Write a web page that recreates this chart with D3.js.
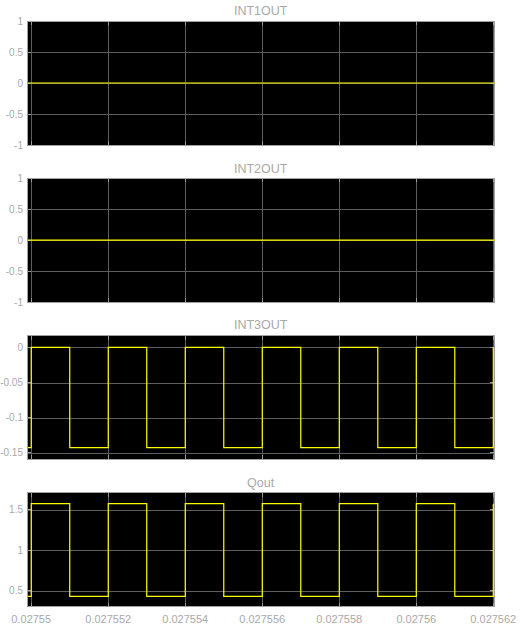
<!DOCTYPE html>
<html>
<head>
<meta charset="utf-8">
<script src="https://cdn.jsdelivr.net/npm/d3@7"></script>
<style>
  html, body { margin: 0; padding: 0; background: #ffffff; }
  svg { display: block; }
  text { font-family: "Liberation Sans", Arial, sans-serif; }
</style>
</head>
<body>
<script>
// ---------- data ----------
const panelTitles = ["INT1OUT", "INT2OUT", "INT3OUT", "Qout"];
const xTicks = [0.02755, 0.027552, 0.027554, 0.027556, 0.027558, 0.02756, 0.027562];
const xTickLabels = ["0.02755", "0.027552", "0.027554", "0.027556", "0.027558", "0.02756", "0.027562"];
const xDomain = [0.02754989, 0.027562026];
const stepTimes = [0.02754989, 0.02755, 0.027551, 0.027552, 0.027553, 0.027554, 0.027555,
                   0.027556, 0.027557, 0.027558, 0.027559, 0.02756, 0.027561, 0.027562];
const flatTimes = [0.02754989, 0.027562026];
const int1Values = [0, 0];
const int2Values = [0, 0];
const int3Values = [-0.1425, 0, -0.1425, 0, -0.1425, 0, -0.1425, 0, -0.1425, 0, -0.1425, 0, -0.1425, 0];
const qoutValues = [0.43, 1.577, 0.43, 1.577, 0.43, 1.577, 0.43, 1.577, 0.43, 1.577, 0.43, 1.577, 0.43, 1.577];
const yDomains = [[-1, 1], [-1, 1], [-0.1587, 0.0165], [0.302, 1.713]];
const yTicks = [[-1, -0.5, 0, 0.5, 1], [-1, -0.5, 0, 0.5, 1], [-0.15, -0.1, -0.05, 0], [0.5, 1, 1.5]];
const yTickLabels = [["-1", "-0.5", "0", "0.5", "1"], ["-1", "-0.5", "0", "0.5", "1"],
                     ["-0.15", "-0.1", "-0.05", "0"], ["0.5", "1", "1.5"]];
const seriesTimes = [flatTimes, flatTimes, stepTimes, stepTimes];
const seriesValues = [int1Values, int2Values, int3Values, qoutValues];

// ---------- layout ----------
const W = 522, H = 628;
const left = 27, right = 494.3;
const panelBoxes = [[21, 145], [178.3, 302], [335.7, 459], [492.7, 606.7]];
const titleY = [15, 173, 329, 487];

const textColor = "#a9a9a9";
const gridColor = "#5e5e5e";
const borderColor = "#a0a0a0";
const lineColor = "#ffff00";

const svg = d3.select("body").append("svg").attr("width", W).attr("height", H);

const x = d3.scaleLinear().domain(xDomain).range([left, right]);

panelBoxes.forEach((box, i) => {
  const [top, bottom] = box;
  const y = d3.scaleLinear().domain(yDomains[i]).range([bottom, top]);
  const g = svg.append("g");

  // background
  g.append("rect").attr("x", left).attr("y", top)
    .attr("width", right - left).attr("height", bottom - top).attr("fill", "#000");

  // grid (via axes)
  const gx = g.append("g").attr("transform", `translate(0,${bottom})`)
    .call(d3.axisBottom(x).tickValues(xTicks).tickSize(-(bottom - top)).tickFormat(""));
  const gy = g.append("g").attr("transform", `translate(${left},0)`)
    .call(d3.axisLeft(y).tickValues(yTicks[i]).tickSize(-(right - left)).tickFormat(""));
  [gx, gy].forEach(a => {
    a.select(".domain").remove();
    a.selectAll("line").attr("stroke", gridColor).attr("stroke-width", 1).attr("shape-rendering", "crispEdges");
  });

  // small inner tick marks at edges
  const tl = 4;
  const tg = g.append("g").attr("stroke", "#9a9a9a").attr("shape-rendering", "crispEdges");
  xTicks.forEach(t => {
    tg.append("line").attr("x1", x(t)).attr("x2", x(t)).attr("y1", bottom).attr("y2", bottom - tl);
    tg.append("line").attr("x1", x(t)).attr("x2", x(t)).attr("y1", top).attr("y2", top + tl);
  });
  yTicks[i].forEach(v => {
    tg.append("line").attr("x1", left).attr("x2", left + tl).attr("y1", y(v)).attr("y2", y(v));
    tg.append("line").attr("x1", right).attr("x2", right - tl).attr("y1", y(v)).attr("y2", y(v));
  });

  // series
  const data = seriesTimes[i].map((t, k) => [t, seriesValues[i][k]]);
  const line = d3.line().x(d => x(d[0])).y(d => y(d[1])).curve(d3.curveStepAfter);
  g.append("path").datum(data).attr("d", line)
    .attr("fill", "none").attr("stroke", lineColor).attr("stroke-width", 1.2);

  // border
  g.append("rect").attr("x", left).attr("y", top)
    .attr("width", right - left).attr("height", bottom - top)
    .attr("fill", "none").attr("stroke", borderColor).attr("stroke-width", 1)
    .attr("shape-rendering", "crispEdges");

  // y labels
  yTicks[i].forEach((v, k) => {
    g.append("text").attr("x", 23).attr("y", y(v)).attr("dy", "0.35em")
      .attr("text-anchor", "end").attr("font-size", 10).attr("fill", textColor)
      .text(yTickLabels[i][k]);
  });

  // title
  g.append("text").attr("x", (left + right) / 2).attr("y", titleY[i])
    .attr("text-anchor", "middle").attr("font-size", 12.5).attr("fill", textColor)
    .text(panelTitles[i]);

  // x labels on last panel
  if (i === panelBoxes.length - 1) {
    xTicks.forEach((t, k) => {
      g.append("text").attr("x", x(t)).attr("y", 623)
        .attr("text-anchor", "middle").attr("font-size", 11).attr("fill", textColor)
        .text(xTickLabels[k]);
    });
  }
});
</script>
</body>
</html>
